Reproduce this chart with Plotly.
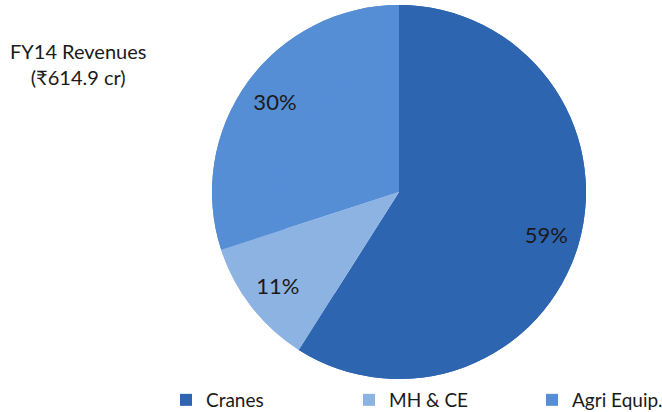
import plotly.graph_objects as go

segments = ["Cranes", "MH & CE", "Agri Equip."]
shares = [59, 11, 30]
colors = ["#2E65B1", "#8DB3E2", "#558ED5"]
title_lines = ["FY14 Revenues", "(₹614.9 cr)"]

W, H = 662, 412
FONT = "Lato, 'Noto Sans', sans-serif"
pie_domain = dict(x=[212 / W, 586 / W], y=[33 / H, 407 / H])

fig = go.Figure()
# solid pie underneath, carries the legend
fig.add_trace(
    go.Pie(
        labels=segments, values=shares, sort=False,
        direction="clockwise", rotation=0,
        marker=dict(colors=colors, line=dict(width=0)),
        textinfo="none", hoverinfo="label+percent",
        domain=pie_domain,
    )
)
# ring on top only to push the percentage labels out toward the rim
fig.add_trace(
    go.Pie(
        labels=segments, values=shares, sort=False,
        direction="clockwise", rotation=0, hole=0.64,
        marker=dict(colors=colors, line=dict(width=0)),
        texttemplate="%{percent:.0%}", textposition="inside",
        insidetextorientation="horizontal",
        textfont=dict(family=FONT, size=22, color="#1a1a1a"),
        hoverinfo="skip", showlegend=False,
        domain=pie_domain,
    )
)

fig.add_annotation(
    text="<br>".join(title_lines),
    x=78 / W, y=1 - 64 / H, xref="paper", yref="paper",
    xanchor="center", yanchor="middle", showarrow=False,
    align="center", font=dict(family=FONT, size=20, color="#1a1a1a"),
)

fig.update_layout(
    width=W, height=H,
    margin=dict(l=0, r=0, t=0, b=0, autoexpand=False),
    paper_bgcolor="white", plot_bgcolor="white",
    legend=dict(
        orientation="h", x=166 / W, y=1 - 400 / H,
        xanchor="left", yanchor="middle",
        entrywidth=138, entrywidthmode="pixels",
        font=dict(family=FONT, size=19, color="#1a1a1a"),
        traceorder="normal",
    ),
)

fig.write_html(
    "out.html",
    config={"displayModeBar": False},
    post_script="document.body.style.margin='0';",
)
